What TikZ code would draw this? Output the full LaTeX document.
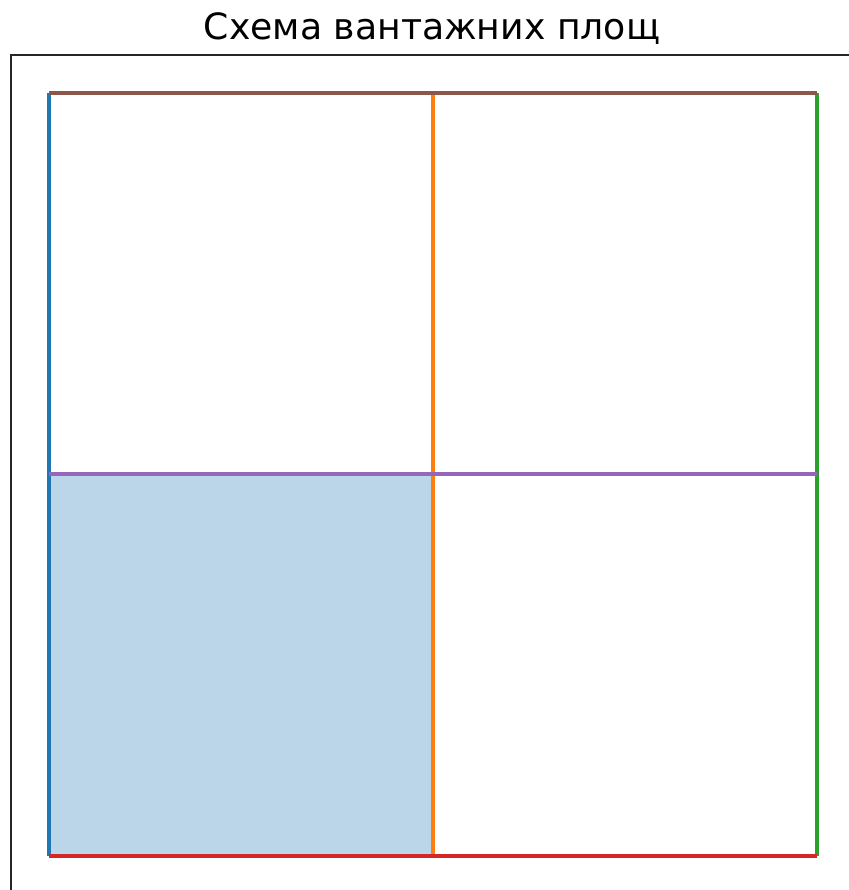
\documentclass[tikz,border=0pt]{standalone}
\usepackage{fontspec}
\setmainfont{DejaVu Sans}
\usepackage{xcolor}
\usetikzlibrary{positioning}

\definecolor{tabblue}{HTML}{1F77B4}
\definecolor{taborange}{HTML}{FF7F0E}
\definecolor{tabgreen}{HTML}{2CA02C}
\definecolor{tabred}{HTML}{D62728}
\definecolor{tabpurple}{HTML}{9467BD}
\definecolor{tabbrown}{HTML}{8C564B}

\begin{document}
\begin{tikzpicture}[
    x=0.5pt, y=-0.5pt,
    border/.style={line width=1pt, black!85},
    edgeline/.style={line width=1.7pt},
    area/.style={fill=tabblue, fill opacity=0.3}
]
\useasboundingbox (0,0) rectangle (849,890);

% corners of the plan
\coordinate (NW) at (49,93);
\coordinate (NE) at (817,93);
\coordinate (SW) at (49,856);
\coordinate (SE) at (817,856);
\coordinate (N) at (433,93);
\coordinate (S) at (433,856);
\coordinate (W) at (49,474);
\coordinate (E) at (817,474);
\coordinate (C) at (433,474);

% axes frame
\begin{scope}
\clip (0,0) rectangle (849,890);
\draw[border] (10.5,900) -- (10.5,55) -- (860,55);
\end{scope}

\node[anchor=base, font=\fontsize{18.1}{20}\selectfont] (title) at (432,39) {Схема вантажних площ};

% filled area
\fill[area] (W) rectangle (S);

% borders between areas
\draw[edgeline, tabblue] (SW) -- (NW);
\draw[edgeline, taborange] (S) -- (N);
\draw[edgeline, tabgreen] (SE) -- (NE);
\draw[edgeline, tabred] (SW) -- (SE);
\draw[edgeline, tabpurple] (W) -- (E);
\draw[edgeline, tabbrown] (NW) -- (NE);

\end{tikzpicture}
\end{document}
